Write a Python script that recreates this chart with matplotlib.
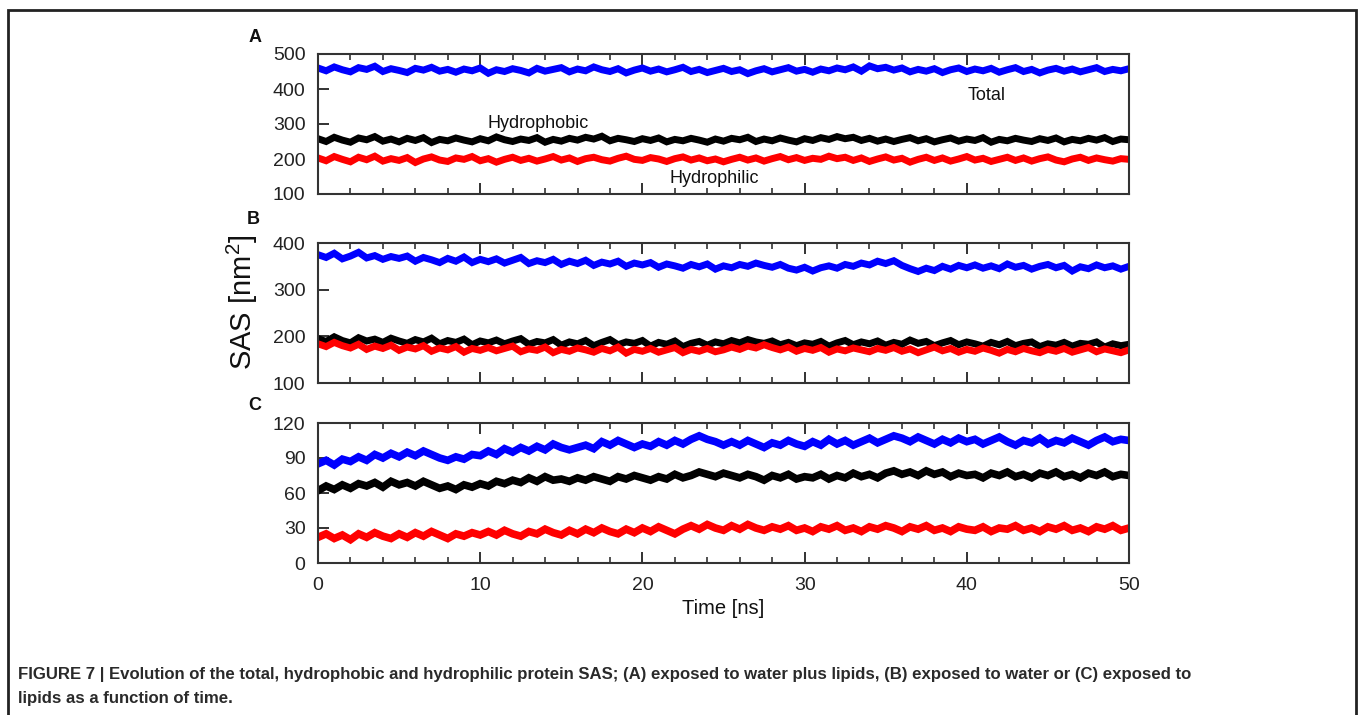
import matplotlib
matplotlib.use("Agg")
import matplotlib.pyplot as plt
import numpy as np
from matplotlib.patches import Rectangle

plt.rcParams['font.family'] = ['Liberation Sans', 'DejaVu Sans']
plt.rcParams['mathtext.fontset'] = 'custom'
plt.rcParams['mathtext.rm'] = 'Liberation Sans'

# SAS traces, one value every 0.5 ns from 0 to 50 ns
a_total = [460, 452, 463, 455, 449, 461, 456, 465, 450, 458, 453, 447, 459, 454, 462, 451, 456, 448, 457, 452,
           460, 445, 455, 450, 458, 453, 446, 459, 451, 456, 461, 449, 457, 452, 463, 455, 450, 458, 446, 454,
           460, 451, 457, 449, 455, 462, 450, 456, 447, 453, 459, 450, 455, 444, 452, 458, 449, 455, 461, 451,
           456, 448, 457, 452, 460, 455, 463, 451, 466, 458, 462, 454, 460, 449, 456, 451, 458, 447, 455, 460,
           450, 457, 452, 459, 448, 455, 461, 450, 456, 446, 454, 459, 451, 457, 449, 455, 461, 450, 456, 452, 458]
a_phobic = [258, 250, 262, 254, 248, 260, 255, 264, 251, 257, 249, 259, 253, 261, 247, 256, 252, 260, 254, 249,
            258, 252, 263, 255, 250, 257, 253, 261, 248, 256, 251, 259, 254, 262, 257, 265, 252, 259, 255, 250,
            258, 253, 260, 249, 256, 252, 259, 254, 248, 257, 251, 259, 255, 262, 250, 257, 252, 260, 254, 249,
            258, 253, 261, 256, 264, 258, 262, 253, 259, 251, 257, 250, 256, 261, 252, 258, 249, 255, 260, 251,
            257, 253, 261, 248, 256, 252, 259, 254, 250, 258, 253, 260, 249, 256, 252, 259, 254, 261, 250, 257, 255]
a_philic = [203, 195, 207, 199, 192, 205, 198, 208, 194, 201, 196, 204, 190, 200, 206, 197, 193, 203, 199, 207,
            195, 201, 191, 199, 205, 196, 202, 194, 200, 207, 197, 203, 193, 201, 205, 198, 194, 202, 208, 199,
            196, 204, 200, 193, 201, 206, 197, 203, 195, 200, 192, 199, 205, 197, 203, 194, 201, 207, 198, 204,
            196, 202, 199, 208, 201, 205, 196, 203, 193, 200, 206, 197, 202, 191, 199, 205, 196, 203, 194, 200,
            207, 197, 202, 193, 199, 205, 196, 203, 194, 201, 206, 197, 192, 200, 205, 196, 203, 198, 194, 201, 199]

b_total = [375, 369, 378, 366, 372, 380, 368, 373, 365, 371, 367,
           372, 361, 369, 364, 358, 367, 361, 370, 358, 365,
           360, 366, 357, 363, 369, 356, 362, 358, 365, 354,
           361, 356, 363, 352, 359, 355, 361, 350, 357, 353,
           358, 348, 355, 351, 346, 354, 349, 355, 344, 351,
           347, 354, 350, 357, 352, 348, 354, 346, 342, 348,
           340, 347, 351, 346, 354, 350, 357, 353, 361, 356,
           362, 352, 345, 339, 346, 341, 350, 344, 352, 347,
           353, 346, 351, 345, 355, 348, 352, 344, 350, 354,
           347, 352, 340, 349, 345, 353, 347, 351, 344, 350]
b_phobic = [195, 189, 199, 191, 186, 197, 190, 194, 187, 196, 190,
            185, 193, 188, 196, 184, 191, 187, 194, 182, 190,
            186, 192, 184, 190, 195, 183, 189, 186, 193, 181,
            188, 184, 191, 180, 187, 193, 182, 188, 185, 191,
            179, 187, 183, 190, 178, 185, 189, 181, 188, 184,
            191, 186, 193, 188, 185, 190, 182, 187, 180, 186,
            183, 189, 179, 186, 191, 182, 188, 184, 190, 181,
            187, 183, 192, 185, 189, 180, 186, 191, 182, 188,
            184, 179, 187, 182, 189, 180, 185, 188, 178, 184,
            181, 187, 179, 185, 183, 188, 177, 184, 180, 183]
b_philic = [184, 178, 187, 180, 175, 183, 172, 179, 174, 181, 170,
            177, 173, 180, 168, 175, 171, 178, 166, 174, 170,
            176, 169, 174, 179, 167, 173, 170, 177, 165, 172,
            168, 175, 171, 166, 174, 169, 177, 164, 172, 168,
            174, 166, 171, 176, 165, 172, 168, 174, 167, 171,
            177, 172, 179, 175, 182, 176, 171, 177, 168, 174,
            170, 176, 166, 173, 169, 175, 171, 167, 174, 170,
            176, 168, 173, 165, 171, 177, 169, 174, 166, 172,
            168, 175, 170, 164, 172, 167, 174, 169, 165, 172,
            168, 174, 166, 171, 176, 167, 173, 169, 165, 171]

c_total = [85, 88, 84, 89, 87, 91, 88, 93, 90, 94, 91,
           95, 92, 96, 93, 90, 88, 91, 89, 93, 92,
           96, 93, 98, 95, 99, 96, 100, 97, 102, 99,
           97, 99, 101, 98, 104, 101, 105, 102, 99, 102,
           100, 104, 101, 105, 102, 106, 109, 106, 104, 101,
           104, 101, 105, 102, 99, 103, 101, 105, 102, 100,
           104, 101, 106, 102, 105, 101, 104, 107, 103, 106,
           109, 107, 104, 108, 105, 102, 106, 103, 107, 104,
           106, 102, 105, 108, 104, 101, 105, 103, 107, 102,
           105, 103, 107, 104, 101, 105, 108, 104, 106, 105]
c_phobic = [62, 66, 63, 67, 64, 68, 66, 69, 65, 70, 67,
            69, 66, 70, 67, 64, 66, 63, 67, 65, 68,
            66, 70, 68, 71, 69, 73, 70, 74, 71, 72,
            70, 73, 71, 74, 72, 70, 74, 72, 75, 73,
            71, 74, 72, 76, 73, 75, 78, 76, 74, 77,
            75, 73, 76, 74, 71, 75, 73, 76, 72, 74,
            73, 76, 72, 75, 73, 77, 74, 76, 73, 77,
            79, 76, 78, 75, 79, 76, 78, 74, 77, 75,
            76, 73, 77, 75, 78, 74, 76, 73, 77, 75,
            78, 74, 76, 73, 77, 75, 78, 74, 76, 75]
c_philic = [22, 25, 21, 24, 20, 25, 22, 26, 23, 21, 25,
            22, 26, 23, 27, 24, 21, 25, 23, 26, 24,
            27, 24, 28, 25, 23, 27, 25, 29, 26, 24,
            28, 25, 29, 26, 30, 27, 25, 29, 26, 30,
            27, 31, 28, 25, 29, 32, 29, 33, 30, 28,
            32, 29, 33, 30, 28, 31, 29, 32, 28, 30,
            27, 31, 29, 32, 28, 30, 27, 31, 29, 32,
            30, 27, 31, 29, 32, 28, 30, 27, 31, 29,
            28, 31, 27, 30, 29, 32, 28, 30, 27, 31,
            29, 32, 28, 30, 27, 31, 29, 32, 28, 30]

panel_letters = ["A", "B", "C"]
y_limits = [(100, 500), (100, 400), (0, 120)]
y_ticks = [[100, 200, 300, 400, 500], [100, 200, 300, 400], [0, 30, 60, 90, 120]]
x_ticks = [0, 10, 20, 30, 40, 50]

caption_1 = ("FIGURE 7 | Evolution of the total, hydrophobic and hydrophilic protein SAS; (A) exposed to water "
             "plus lipids, (B) exposed to water or (C) exposed to")
caption_2 = "lipids as a function of time."

W, H = 1358, 715
fig = plt.figure(figsize=(W / 100, H / 100), dpi=100)

# outer frame of the figure box (bottom edge falls off the page)
fig.add_artist(Rectangle((8 / W, -0.05), (1356 - 8) / W, 1 - 10 / H + 0.05,
                         transform=fig.transFigure, fill=False, lw=2, ec='#222222'))

left, width, height = 318 / W, (1129 - 318) / W, 140 / H
bottoms = [1 - 194 / H, 1 - 383 / H, 1 - 563 / H]
letter_pos = [(255, 37), (253, 219), (255, 405)]
series = [(a_total, a_phobic, a_philic), (b_total, b_phobic, b_philic), (c_total, c_phobic, c_philic)]
widths = [5.0, 5.0, 5.5]

axes = []
for i in range(3):
    ax = fig.add_axes([left, bottoms[i], width, height])
    tot, pho, phi = series[i]
    for vals, col in [(tot, '#0000ff'), (pho, 'black'), (phi, '#ff0000')]:
        t = np.linspace(0, 50, len(vals))
        ax.plot(t, vals, color=col, lw=widths[i], solid_joinstyle='miter')
    ax.set_xlim(0, 50)
    ax.set_ylim(*y_limits[i])
    ax.set_yticks(y_ticks[i])
    ax.set_xticks(x_ticks)
    ax.set_xticks(np.arange(0, 51, 2), minor=True)
    ax.tick_params(axis='x', which='major', direction='in', length=8, width=1.3,
                   top=True, bottom=True, labelsize=14, pad=10, colors='#222222')
    ax.tick_params(axis='x', which='minor', direction='in', length=4, width=1.1,
                   top=True, bottom=True, colors='#222222')
    ax.tick_params(axis='y', which='major', direction='in', length=8, width=1.3,
                   left=True, right=False, labelsize=14, pad=9, colors='#222222')
    if i < 2:
        ax.tick_params(axis='x', labelbottom=False)
    for sp in ax.spines.values():
        sp.set_linewidth(1.5)
        sp.set_color('#333333')
        sp.set_zorder(3)
    lx, ly = letter_pos[i]
    fig.text(lx / W, 1 - ly / H, panel_letters[i], fontsize=13, fontweight='bold',
             ha='center', va='center', color='#111111')
    axes.append(ax)

axes[0].text(41.2, 380, "Total", fontsize=13, ha='center', va='center', color='#111111')
axes[0].text(13.6, 300, "Hydrophobic", fontsize=13, ha='center', va='center', color='#111111')
axes[0].text(24.4, 143, "Hydrophilic", fontsize=13, ha='center', va='center', color='#111111')

axes[2].set_xlabel("Time [ns]", fontsize=14.5, labelpad=4, color='#111111')
fig.text(242 / W, 1 - 302 / H, "SAS [nm$^2$]", fontsize=21, rotation=90,
         ha='center', va='center', color='#111111')

# caption, fitted to the width of the first printed line
cap_font = ['Liberation Sans Narrow', 'Liberation Sans', 'DejaVu Sans']
c1 = fig.text(18 / W, 1 - 674 / H, caption_1, fontsize=11, fontweight='bold',
              family=cap_font, color='#2a2a2a', ha='left', va='center')
c2 = fig.text(18 / W, 1 - 698 / H, caption_2, fontsize=11, fontweight='bold',
              family=cap_font, color='#2a2a2a', ha='left', va='center')
fig.canvas.draw()
bb = c1.get_window_extent()
scale = (1195 - 18) / bb.width
c1.set_fontsize(11 * scale)
c2.set_fontsize(11 * scale)

fig.savefig("out.png", dpi=100)
